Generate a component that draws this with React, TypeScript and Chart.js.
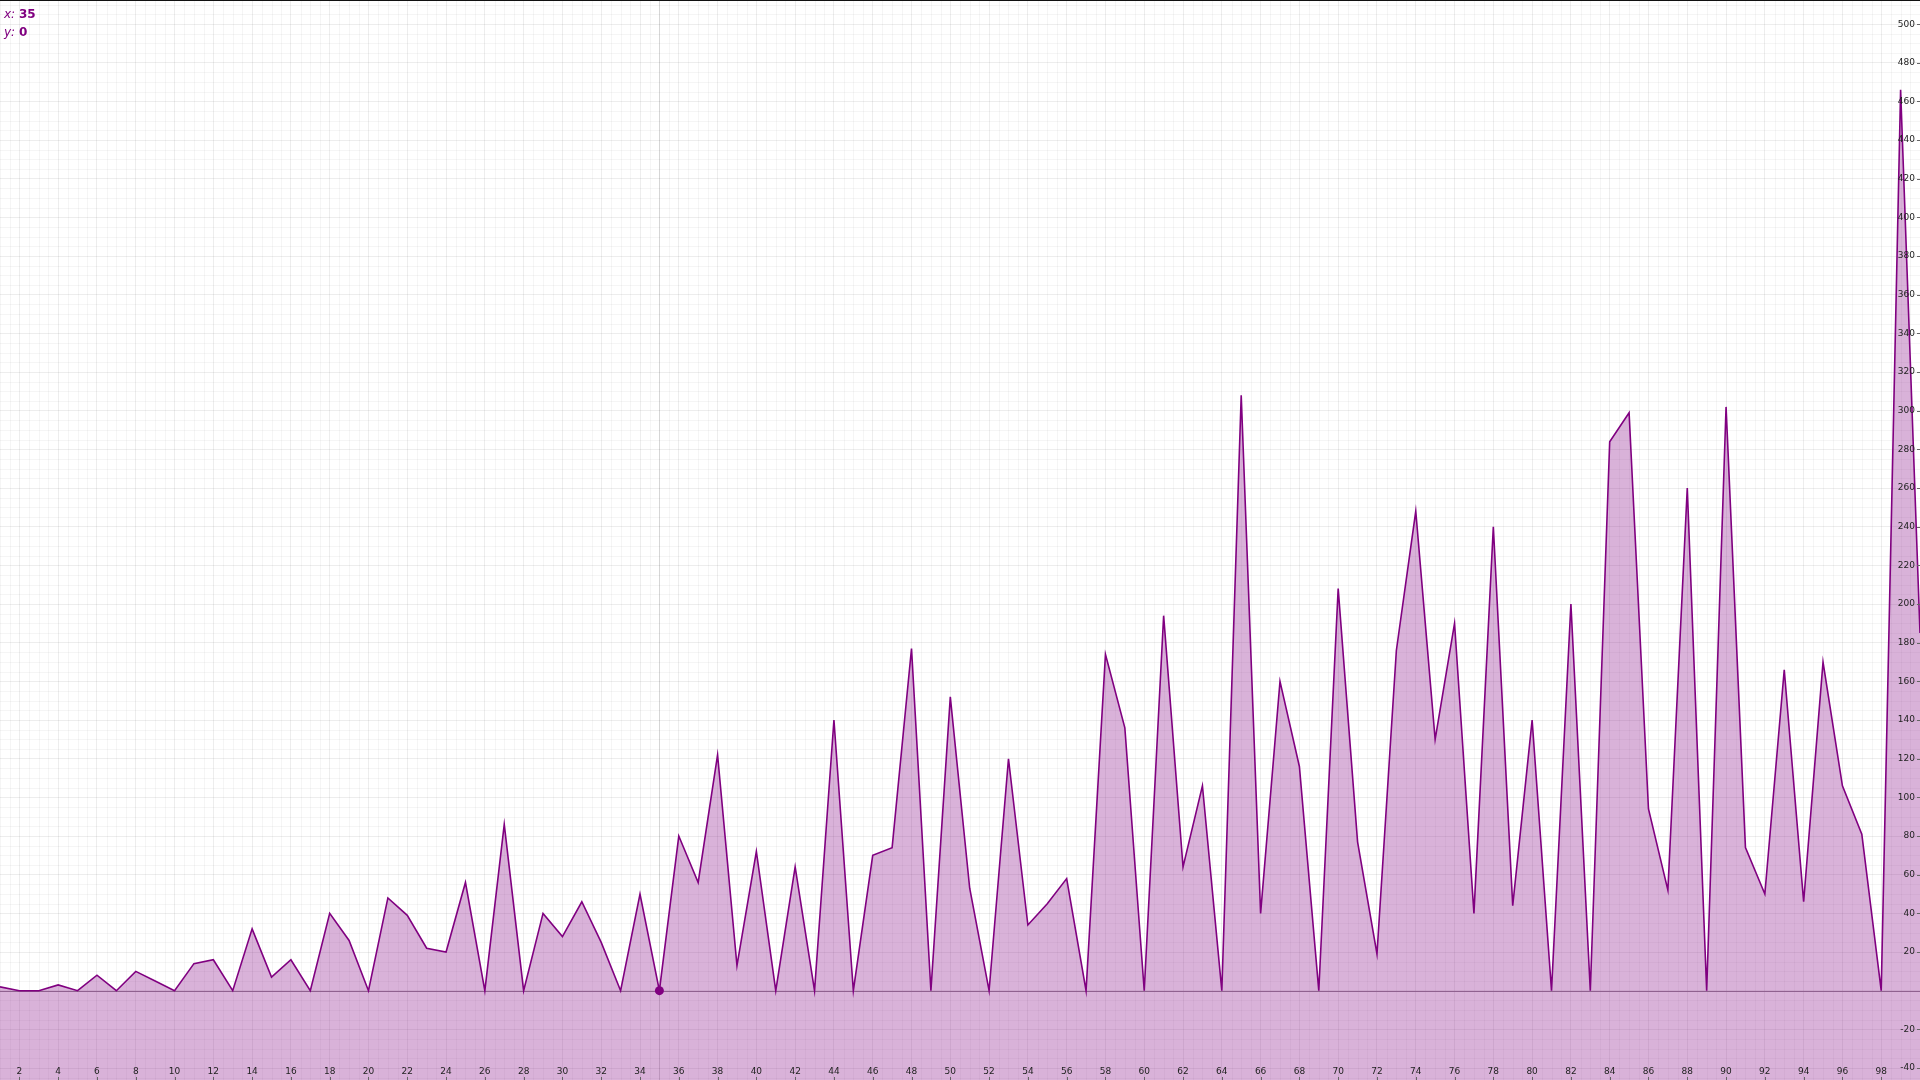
import React, { useEffect, useRef } from "react";
import { Chart, registerables } from "chart.js";

Chart.register(...registerables);

// ---- data ----
const X_VALUES = [
  1, 2, 3, 4, 5, 6, 7, 8, 9, 10, 11, 12, 13, 14, 15, 16, 17, 18, 19, 20,
  21, 22, 23, 24, 25, 26, 27, 28, 29, 30, 31, 32, 33, 34, 35, 36, 37, 38, 39, 40,
  41, 42, 43, 44, 45, 46, 47, 48, 49, 50, 51, 52, 53, 54, 55, 56, 57, 58, 59, 60,
  61, 62, 63, 64, 65, 66, 67, 68, 69, 70, 71, 72, 73, 74, 75, 76, 77, 78, 79, 80,
  81, 82, 83, 84, 85, 86, 87, 88, 89, 90, 91, 92, 93, 94, 95, 96, 97, 98, 99, 100,
];
const Y_VALUES = [
  2, 0, 0, 3, 0, 8, 0, 10, 5, 0, 14, 16, 0, 32, 7, 16, 0, 40, 26, 0,
  48, 39, 22, 20, 56, 0, 86, 0, 40, 28, 46, 25, 0, 50, 0, 80, 56, 122, 13, 72,
  0, 64, 0, 140, 0, 70, 74, 177, 0, 152, 53, 0, 120, 34, 45, 58, 0, 174, 136, 0,
  194, 64, 106, 0, 308, 40, 160, 116, 0, 208, 77, 19, 176, 248, 130, 190, 40, 240, 44, 140,
  0, 200, 0, 284, 299, 94, 52, 260, 0, 302, 74, 50, 166, 46, 170, 106, 81, 0, 466, 185,
];
const X_TICKS = [
  2, 4, 6, 8, 10, 12, 14, 16, 18, 20, 22, 24, 26, 28, 30, 32, 34, 36, 38, 40,
  42, 44, 46, 48, 50, 52, 54, 56, 58, 60, 62, 64, 66, 68, 70, 72, 74, 76, 78, 80,
  82, 84, 86, 88, 90, 92, 94, 96, 98,
];
const Y_TICKS = [
  -40, -20, 0, 20, 40, 60, 80, 100, 120, 140, 160, 180, 200, 220, 240, 260, 280,
  300, 320, 340, 360, 380, 400, 420, 440, 460, 480, 500,
];
const X_RANGE = [1, 100];
const Y_RANGE = [-46.2, 512.5];
const X_MINOR_STEP = 0.5;
const Y_MINOR_STEP = 5;
const HIGHLIGHT = { x: 35, y: 0 };

const PURPLE = "#800080";
const TICK_FONT = "9px 'DejaVu Sans', sans-serif";

export default function App() {
  const canvasRef = useRef<HTMLCanvasElement | null>(null);

  useEffect(() => {
    document.body.style.margin = "0";
    document.body.style.overflow = "hidden";
    const canvas = canvasRef.current;
    if (!canvas) return;

    const decorations = {
      id: "decorations",
      beforeDatasetsDraw(chart: any) {
        const { ctx, chartArea: a, scales } = chart;
        const x = scales.x;
        const y = scales.y;
        ctx.save();
        ctx.lineWidth = 1;
        // minor grid
        ctx.strokeStyle = "rgba(0,0,0,0.04)";
        ctx.beginPath();
        for (let v = X_RANGE[0]; v <= X_RANGE[1]; v += X_MINOR_STEP) {
          if (X_TICKS.includes(v)) continue;
          const px = Math.round(x.getPixelForValue(v)) + 0.5;
          ctx.moveTo(px, a.top);
          ctx.lineTo(px, a.bottom);
        }
        const yStart = Math.ceil(Y_RANGE[0] / Y_MINOR_STEP) * Y_MINOR_STEP;
        for (let v = yStart; v <= Y_RANGE[1]; v += Y_MINOR_STEP) {
          if (Y_TICKS.includes(v)) continue;
          const py = Math.round(y.getPixelForValue(v)) + 0.5;
          ctx.moveTo(a.left, py);
          ctx.lineTo(a.right, py);
        }
        ctx.stroke();
        // crosshair
        ctx.strokeStyle = "rgba(0,0,0,0.13)";
        ctx.beginPath();
        const cx = Math.round(x.getPixelForValue(HIGHLIGHT.x)) + 0.5;
        ctx.moveTo(cx, a.top);
        ctx.lineTo(cx, a.bottom);
        ctx.stroke();
        // zero line
        ctx.strokeStyle = "rgb(150,140,150)";
        ctx.beginPath();
        const zy = Math.round(y.getPixelForValue(0)) + 0.5;
        ctx.moveTo(a.left, zy);
        ctx.lineTo(a.right, zy);
        ctx.stroke();
        ctx.restore();
      },
      afterDraw(chart: any) {
        const { ctx, chartArea: a, scales } = chart;
        const x = scales.x;
        const y = scales.y;
        ctx.save();
        ctx.font = TICK_FONT;
        ctx.fillStyle = "#222";
        ctx.strokeStyle = "#666";
        ctx.lineWidth = 1;
        ctx.textBaseline = "middle";
        ctx.beginPath();
        // x tick labels + marks
        ctx.textAlign = "center";
        for (const t of x.ticks) {
          const px = x.getPixelForValue(t.value);
          ctx.fillText(String(t.value), px, a.bottom - 8);
          const ap = Math.round(px) + 0.5;
          ctx.moveTo(ap, a.bottom - 3);
          ctx.lineTo(ap, a.bottom);
        }
        // y tick labels + marks
        ctx.textAlign = "right";
        for (const t of y.ticks) {
          if (t.value === 0) continue;
          const py = y.getPixelForValue(t.value);
          ctx.fillText(String(t.value), a.right - 5, py);
          const ap = Math.round(py) + 0.5;
          ctx.moveTo(a.right - 3, ap);
          ctx.lineTo(a.right, ap);
        }
        ctx.stroke();
        // top border
        ctx.strokeStyle = "#111";
        ctx.beginPath();
        ctx.moveTo(0, 0.5);
        ctx.lineTo(chart.width, 0.5);
        ctx.stroke();
        ctx.restore();
      },
    };

    const chart = new Chart(canvas, {
      type: "line",
      data: {
        datasets: [
          {
            data: X_VALUES.map((xv, i) => ({ x: xv, y: Y_VALUES[i] })),
            borderColor: PURPLE,
            borderWidth: 1.6,
            backgroundColor: "rgba(128,0,128,0.3)",
            fill: "start",
            tension: 0,
            pointRadius: (c: any) => (c.raw && c.raw.x === HIGHLIGHT.x ? 4.5 : 0),
            pointBackgroundColor: PURPLE,
            pointBorderColor: PURPLE,
            pointBorderWidth: 0,
            pointHoverRadius: 0,
          },
        ],
      },
      options: {
        responsive: false,
        animation: false,
        devicePixelRatio: 1,
        events: [],
        layout: { padding: 0 },
        plugins: {
          legend: { display: false },
          tooltip: { enabled: false },
          title: { display: false },
        },
        scales: {
          x: {
            type: "linear",
            min: X_RANGE[0],
            max: X_RANGE[1],
            ticks: { display: false },
            afterBuildTicks: (s: any) => {
              s.ticks = X_TICKS.map((v) => ({ value: v }));
            },
            grid: { color: "rgba(0,0,0,0.07)", drawTicks: false },
            border: { display: false },
          },
          y: {
            type: "linear",
            position: "right",
            min: Y_RANGE[0],
            max: Y_RANGE[1],
            ticks: { display: false },
            afterBuildTicks: (s: any) => {
              s.ticks = Y_TICKS.map((v) => ({ value: v }));
            },
            grid: { color: "rgba(0,0,0,0.07)", drawTicks: false },
            border: { display: false },
          },
        },
      } as any,
      plugins: [decorations],
    });

    return () => chart.destroy();
  }, []);

  const labelStyle: React.CSSProperties = {
    fontFamily: "'DejaVu Sans', sans-serif",
    fontSize: "12px",
    lineHeight: "18px",
    color: PURPLE,
    whiteSpace: "nowrap",
  };

  return (
    <div style={{ position: "relative", width: 1920, height: 1080, overflow: "hidden", background: "#fff" }}>
      <canvas ref={canvasRef} width={1920} height={1080} style={{ display: "block", width: 1920, height: 1080 }} />
      <div style={{ position: "absolute", left: 4, top: 5, ...labelStyle }}>
        <div>
          <span style={{ fontStyle: "italic" }}>x: </span>
          <span style={{ fontWeight: "bold" }}>{HIGHLIGHT.x}</span>
        </div>
        <div>
          <span style={{ fontStyle: "italic" }}>y: </span>
          <span style={{ fontWeight: "bold" }}>{HIGHLIGHT.y}</span>
        </div>
      </div>
    </div>
  );
}
